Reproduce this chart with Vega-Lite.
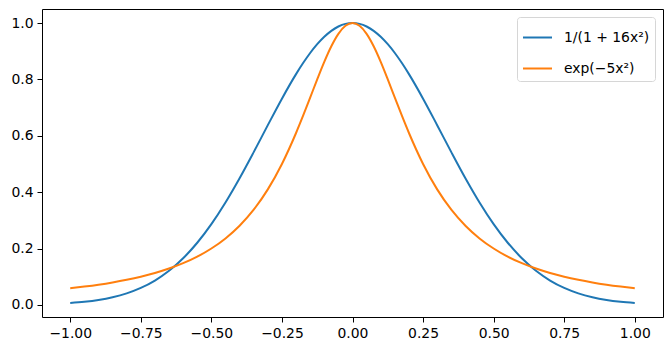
{
  "$schema": "https://vega.github.io/schema/vega-lite/v6.json",
  "width": 621,
  "height": 308,
  "autosize": {"type": "none"},
  "padding": {"left": 42, "top": 9, "right": 8, "bottom": 34},
  "background": "white",
  "config": {
    "font": "DejaVu Sans",
    "view": {"stroke": "black", "strokeWidth": 1},
    "axis": {
      "grid": false,
      "domain": false,
      "tickColor": "black",
      "tickSize": 5,
      "tickWidth": 1,
      "labelPadding": 4,
      "labelFontSize": 13.9,
      "labelColor": "black",
      "labelFont": "DejaVu Sans"
    },
    "legend": {
      "labelFontSize": 13.9,
      "labelFont": "DejaVu Sans",
      "labelColor": "black"
    }
  },
  "data": {
    "values": [
      {"x": -1.0, "y": 0.0067, "s": "a"},
      {"x": -0.95, "y": 0.0110, "s": "a"},
      {"x": -0.9, "y": 0.0174, "s": "a"},
      {"x": -0.85, "y": 0.0270, "s": "a"},
      {"x": -0.8, "y": 0.0408, "s": "a"},
      {"x": -0.75, "y": 0.0601, "s": "a"},
      {"x": -0.7, "y": 0.0863, "s": "a"},
      {"x": -0.65, "y": 0.1209, "s": "a"},
      {"x": -0.6, "y": 0.1653, "s": "a"},
      {"x": -0.55, "y": 0.2204, "s": "a"},
      {"x": -0.5, "y": 0.2865, "s": "a"},
      {"x": -0.45, "y": 0.3633, "s": "a"},
      {"x": -0.4, "y": 0.4493, "s": "a"},
      {"x": -0.35, "y": 0.5420, "s": "a"},
      {"x": -0.3, "y": 0.6376, "s": "a"},
      {"x": -0.25, "y": 0.7316, "s": "a"},
      {"x": -0.2, "y": 0.8187, "s": "a"},
      {"x": -0.175, "y": 0.8580, "s": "a"},
      {"x": -0.15, "y": 0.8936, "s": "a"},
      {"x": -0.125, "y": 0.9248, "s": "a"},
      {"x": -0.1, "y": 0.9512, "s": "a"},
      {"x": -0.075, "y": 0.9723, "s": "a"},
      {"x": -0.05, "y": 0.9876, "s": "a"},
      {"x": -0.025, "y": 0.9969, "s": "a"},
      {"x": 0.0, "y": 1.0, "s": "a"},
      {"x": 0.025, "y": 0.9969, "s": "a"},
      {"x": 0.05, "y": 0.9876, "s": "a"},
      {"x": 0.075, "y": 0.9723, "s": "a"},
      {"x": 0.1, "y": 0.9512, "s": "a"},
      {"x": 0.125, "y": 0.9248, "s": "a"},
      {"x": 0.15, "y": 0.8936, "s": "a"},
      {"x": 0.175, "y": 0.8580, "s": "a"},
      {"x": 0.2, "y": 0.8187, "s": "a"},
      {"x": 0.25, "y": 0.7316, "s": "a"},
      {"x": 0.3, "y": 0.6376, "s": "a"},
      {"x": 0.35, "y": 0.5420, "s": "a"},
      {"x": 0.4, "y": 0.4493, "s": "a"},
      {"x": 0.45, "y": 0.3633, "s": "a"},
      {"x": 0.5, "y": 0.2865, "s": "a"},
      {"x": 0.55, "y": 0.2204, "s": "a"},
      {"x": 0.6, "y": 0.1653, "s": "a"},
      {"x": 0.65, "y": 0.1209, "s": "a"},
      {"x": 0.7, "y": 0.0863, "s": "a"},
      {"x": 0.75, "y": 0.0601, "s": "a"},
      {"x": 0.8, "y": 0.0408, "s": "a"},
      {"x": 0.85, "y": 0.0270, "s": "a"},
      {"x": 0.9, "y": 0.0174, "s": "a"},
      {"x": 0.95, "y": 0.0110, "s": "a"},
      {"x": 1.0, "y": 0.0067, "s": "a"},
      {"x": -1.0, "y": 0.0588, "s": "b"},
      {"x": -0.95, "y": 0.0648, "s": "b"},
      {"x": -0.9, "y": 0.0716, "s": "b"},
      {"x": -0.85, "y": 0.0796, "s": "b"},
      {"x": -0.8, "y": 0.0890, "s": "b"},
      {"x": -0.75, "y": 0.1000, "s": "b"},
      {"x": -0.7, "y": 0.1131, "s": "b"},
      {"x": -0.65, "y": 0.1289, "s": "b"},
      {"x": -0.6, "y": 0.1479, "s": "b"},
      {"x": -0.55, "y": 0.1712, "s": "b"},
      {"x": -0.5, "y": 0.2000, "s": "b"},
      {"x": -0.45, "y": 0.2358, "s": "b"},
      {"x": -0.4, "y": 0.2809, "s": "b"},
      {"x": -0.35, "y": 0.3378, "s": "b"},
      {"x": -0.3, "y": 0.4098, "s": "b"},
      {"x": -0.25, "y": 0.5000, "s": "b"},
      {"x": -0.2, "y": 0.6098, "s": "b"},
      {"x": -0.175, "y": 0.6711, "s": "b"},
      {"x": -0.15, "y": 0.7353, "s": "b"},
      {"x": -0.125, "y": 0.8000, "s": "b"},
      {"x": -0.1, "y": 0.8621, "s": "b"},
      {"x": -0.075, "y": 0.9174, "s": "b"},
      {"x": -0.05, "y": 0.9615, "s": "b"},
      {"x": -0.025, "y": 0.9901, "s": "b"},
      {"x": 0.0, "y": 1.0, "s": "b"},
      {"x": 0.025, "y": 0.9901, "s": "b"},
      {"x": 0.05, "y": 0.9615, "s": "b"},
      {"x": 0.075, "y": 0.9174, "s": "b"},
      {"x": 0.1, "y": 0.8621, "s": "b"},
      {"x": 0.125, "y": 0.8000, "s": "b"},
      {"x": 0.15, "y": 0.7353, "s": "b"},
      {"x": 0.175, "y": 0.6711, "s": "b"},
      {"x": 0.2, "y": 0.6098, "s": "b"},
      {"x": 0.25, "y": 0.5000, "s": "b"},
      {"x": 0.3, "y": 0.4098, "s": "b"},
      {"x": 0.35, "y": 0.3378, "s": "b"},
      {"x": 0.4, "y": 0.2809, "s": "b"},
      {"x": 0.45, "y": 0.2358, "s": "b"},
      {"x": 0.5, "y": 0.2000, "s": "b"},
      {"x": 0.55, "y": 0.1712, "s": "b"},
      {"x": 0.6, "y": 0.1479, "s": "b"},
      {"x": 0.65, "y": 0.1289, "s": "b"},
      {"x": 0.7, "y": 0.1131, "s": "b"},
      {"x": 0.75, "y": 0.1000, "s": "b"},
      {"x": 0.8, "y": 0.0890, "s": "b"},
      {"x": 0.85, "y": 0.0796, "s": "b"},
      {"x": 0.9, "y": 0.0716, "s": "b"},
      {"x": 0.95, "y": 0.0648, "s": "b"},
      {"x": 1.0, "y": 0.0588, "s": "b"}
    ]
  },
  "mark": {"type": "line", "strokeWidth": 2, "interpolate": "monotone"},
  "encoding": {
    "x": {
      "field": "x",
      "type": "quantitative",
      "scale": {"domain": [-1.1, 1.1], "nice": false, "zero": false},
      "axis": {"title": null, "values": [-1, -0.75, -0.5, -0.25, 0, 0.25, 0.5, 0.75, 1], "format": ".2f"}
    },
    "y": {
      "field": "y",
      "type": "quantitative",
      "scale": {"domain": [-0.043, 1.0497], "nice": false, "zero": false},
      "axis": {"title": null, "values": [0, 0.2, 0.4, 0.6, 0.8, 1.0], "format": ".1f"}
    },
    "color": {
      "field": "s",
      "type": "nominal",
      "scale": {"domain": ["a", "b"], "range": ["#1f77b4", "#ff7f0e"]},
      "legend": {
        "title": null,
        "orient": "top-right",
        "offset": 8,
        "labelExpr": "datum.value == 'a' ? '1/(1 + 16x²)' : 'exp(−5x²)'",
        "symbolType": "stroke",
        "symbolSize": 841,
        "symbolStrokeWidth": 2,
        "labelOffset": 11,
        "rowPadding": 8,
        "padding": 5,
        "fillColor": "white",
        "strokeColor": "#d6d6d6",
        "cornerRadius": 3
      }
    }
  }
}
